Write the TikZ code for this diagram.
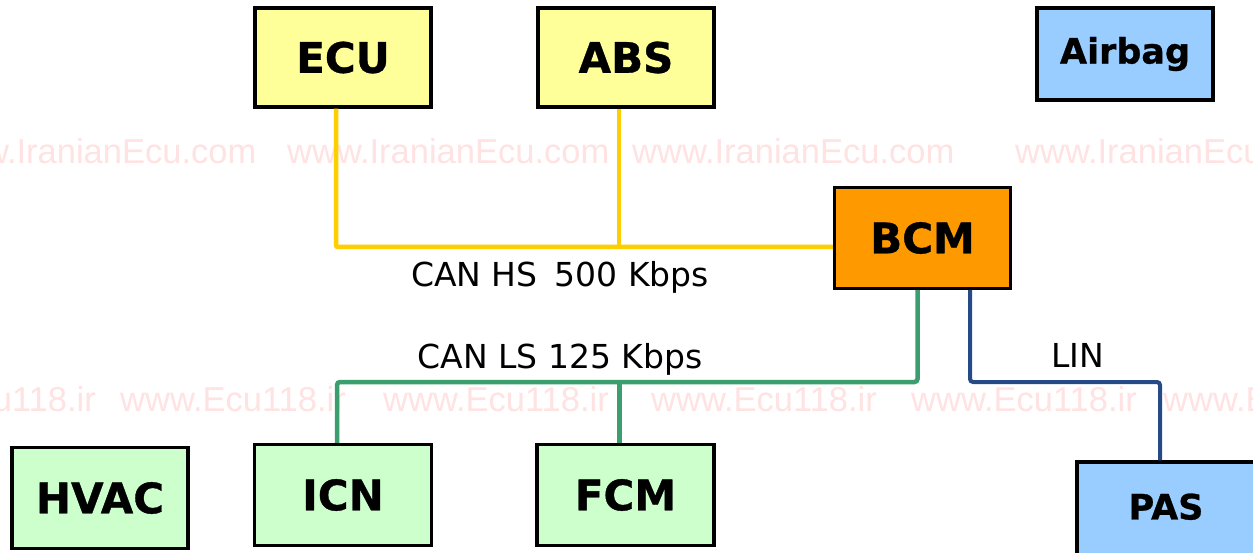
\documentclass[tikz,border=0pt]{standalone}
\usepackage{fontspec}
\newfontfamily\boxfont{DejaVu Sans}
\newfontfamily\heavyfont{DejaVu Sans Bold}[FakeBold=0.8]
\newfontfamily\markfont{Liberation Sans}

\definecolor{ecufill}{RGB}{255,255,153}
\definecolor{bcmfill}{RGB}{255,153,0}
\definecolor{bluefill}{RGB}{153,204,255}
\definecolor{greenfill}{RGB}{204,255,204}
\definecolor{hsline}{RGB}{255,206,0}
\definecolor{lsline}{RGB}{58,158,110}
\definecolor{linline}{RGB}{38,74,135}
\definecolor{wmark}{RGB}{255,226,226}

\tikzset{
  module/.style={draw=black, line width=3.4pt, minimum width=176pt, minimum height=99pt,
                 inner sep=0pt, font=\heavyfont\fontsize{42}{48}\selectfont},
  smallmodule/.style={module, font=\heavyfont\fontsize{35}{42}\selectfont},
  hsbus/.style={draw=hsline, line width=4.5pt, rounded corners=2pt},
  lsbus/.style={draw=lsline, line width=4.5pt, rounded corners=3pt},
  linbus/.style={draw=linline, line width=4pt, rounded corners=3pt},
  buslabel/.style={anchor=base, inner sep=0pt, font=\boxfont\fontsize{33}{40}\selectfont},
  watermark/.style={anchor=base west, inner sep=0pt, text=wmark,
                    font=\markfont\fontsize{34.5}{40}\selectfont},
}

\begin{document}
\begin{tikzpicture}[x=1pt, y=-1pt]
  \useasboundingbox (0,0) rectangle (1253,553);
  \clip (0,0) rectangle (1253,553);
  \fill[white] (0,0) rectangle (1253,553);

  % faint site watermarks behind the network
  \foreach \i/\x in {1/-66, 2/287, 3/632, 4/1015}
    \node[watermark] (wa\i) at (\x,164) {www.IranianEcu.com};
  \foreach \i/\x in {1/-130, 2/120, 3/383, 4/651, 5/911, 6/1163}
    \node[watermark] (wb\i) at (\x,411) {www.Ecu118.ir};

  % bus levels
  \coordinate (hs) at (0,247);
  \coordinate (ls) at (0,382);

  % control modules
  \node[module, fill=ecufill] (ecu) at (343,57.5) {ECU};
  \node[module, fill=ecufill] (abs) at (626,57.5) {ABS};
  \node[smallmodule, fill=bluefill, minimum height=92pt] (airbag) at (1125,54) {Airbag};
  \node[module, fill=bcmfill, minimum height=101pt] (bcm) at (922.5,238) {BCM};
  \node[module, fill=greenfill, minimum height=101pt] (hvac) at (100,498) {HVAC};
  \node[module, fill=greenfill, minimum height=101pt, minimum width=177pt] (icn) at (343,495) {ICN};
  \node[module, fill=greenfill, minimum height=101pt, minimum width=177pt] (fcm) at (625.5,495) {FCM};
  \node[smallmodule, fill=bluefill, minimum width=178pt, minimum height=100pt] (pas) at (1166,512)
       {\raisebox{11pt}{PAS}};

  % high-speed CAN
  \draw[hsbus] ([xshift=-7pt]ecu.south) |- ([yshift=-9pt]bcm.west);
  \draw[hsbus] ([xshift=-7pt]abs.south) -- ([xshift=-7pt]abs.south |- hs);

  % low-speed CAN
  \draw[lsbus] ([xshift=-5pt]bcm.south) |- ([xshift=-6pt]icn.north |- ls) -- ([xshift=-6pt]icn.north);
  \draw[lsbus] ([xshift=-6pt]fcm.north) -- ([xshift=-6pt]fcm.north |- ls);

  % LIN
  \draw[linbus] ([xshift=47.5pt]bcm.south) |- ([xshift=-6pt]pas.north |- ls) -- ([xshift=-6pt]pas.north);

  % bus labels
  \node[buslabel] (hslabel) at (560,287) {CAN HS\hspace{0.2em} 500 Kbps};
  \node[buslabel] (lslabel) at (560,368) {CAN LS 125 Kbps};
  \node[buslabel] (linlabel) at (1078,367) {LIN};
\end{tikzpicture}
\end{document}
